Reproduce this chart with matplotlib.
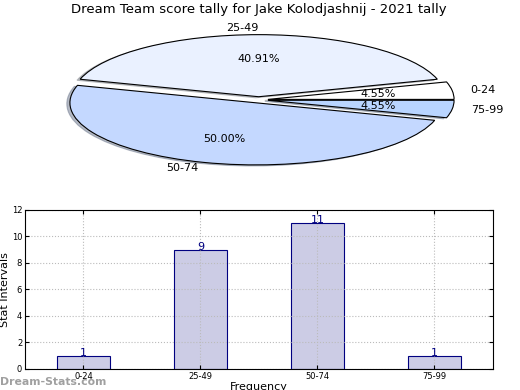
import matplotlib
matplotlib.use('Agg')
import matplotlib.pyplot as plt

labels = ['0-24', '25-49', '50-74', '75-99']
counts = [1, 9, 11, 1]
pie_colors = ['#FFFFFF', '#EAF1FF', '#C4D8FF', '#B9D5FF']
title = 'Dream Team score tally for Jake Kolodjashnij - 2021 tally'

fig = plt.figure(figsize=(5.2, 3.9), dpi=100)

# pie on top, stretched into an ellipse
ax1 = fig.add_axes([0.05, 0.545, 0.895, 0.398])
ax1.pie(counts, labels=labels, colors=pie_colors, explode=[0.05] * 4,
        autopct='%1.2f%%',
        shadow={'ox': -0.012, 'oy': -0.012, 'shade': 0.45},
        wedgeprops={'linewidth': 0.8, 'edgecolor': 'black'},
        textprops={'fontsize': 8})
ax1.set_aspect('auto')
ax1.set_xlim(-1.25, 1.25)
ax1.set_ylim(-1.25, 1.25)
ax1.set_title(title, fontsize=9.5, pad=7)

# bar chart below
ax2 = fig.add_axes([0.048, 0.054, 0.9, 0.408])
x = range(len(labels))
ax2.bar(x, counts, width=0.45, color='#CCCCE5', edgecolor='navy', linewidth=0.8)
for i, v in enumerate(counts):
    ax2.text(i, v, str(v), ha='center', va='baseline', color='navy', fontsize=8)
ax2.set_xlim(-0.5, 3.5)
ax2.set_ylim(0, 12)
ax2.set_yticks(range(0, 13, 2))
ax2.set_xticks(list(x))
ax2.set_xticklabels(labels)
ax2.tick_params(axis='both', labelsize=6, direction='in', top=True, right=True,
                length=3, pad=2)
ax2.grid(True, linestyle=':', color='#BBBBBB', linewidth=0.8)
ax2.set_ylabel('Stat Intervals', fontsize=8, labelpad=1)
ax2.set_xlabel('Frequency', fontsize=8, labelpad=1)

fig.text(0.0, 0.012, 'Dream-Stats.com', fontsize=7.8, color='#888888',
         fontweight='bold', alpha=0.8)

fig.savefig('out.png', dpi=100)
